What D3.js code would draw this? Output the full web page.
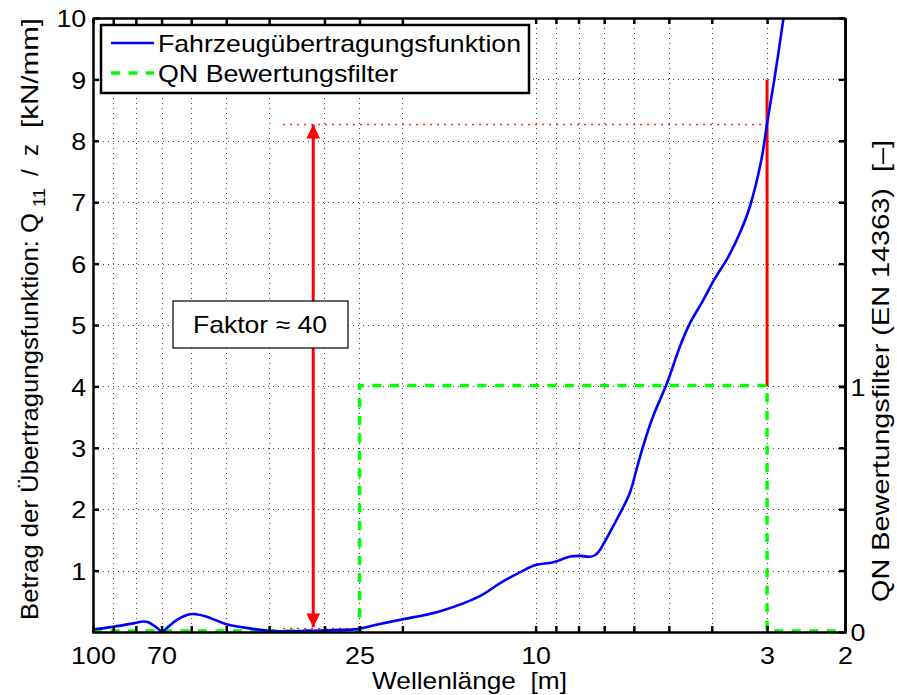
<!DOCTYPE html>
<html>
<head>
<meta charset="utf-8">
<script src="https://cdn.jsdelivr.net/npm/d3@7/dist/d3.min.js"></script>
<style>
  html, body { margin: 0; padding: 0; background: #fff; }
  text { font-family: "Liberation Sans", Arial, Helvetica, sans-serif; fill: #000; white-space: pre; }
</style>
</head>
<body>
<svg id="chart" width="897" height="695"></svg>
<script>
// ---------- data ----------
const xTicks = [100, 90, 80, 70, 60, 50, 40, 30, 25, 20, 10, 9, 8, 7, 6, 5, 4, 3, 2];
const xTickLabels = [100, 70, 25, 10, 3, 2];
const yTicksLeft = [1, 2, 3, 4, 5, 6, 7, 8, 9, 10];
const yTicksRight = [0, 1];

// Fahrzeugübertragungsfunktion (wavelength [m], value [kN/mm])
const wavelength = [100, 99, 90, 81.1, 77, 75, 71.8, 69.6, 68.2, 64.7, 60.4, 58.5, 55.3, 49.9, 43.4, 39.2,
  31.8, 27.6, 25.4, 22.5, 20.2, 16.5, 13.4, 12.0, 10.8, 10.0, 9.12, 8.35, 7.93, 7.54, 7.35, 7.2, 7.03,
  6.8, 6.57, 6.13, 5.92, 5.72, 5.43, 5.05, 4.72, 4.48, 4.2, 3.94, 3.67, 3.45, 3.28, 3.09, 3.0, 2.89, 2.755, 2.72];
const transfer = [0.06, 0.05, 0.086, 0.14, 0.17, 0.16, 0.07, 0.005, 0.06, 0.195, 0.29, 0.29, 0.25, 0.125, 0.05, 0.016,
  0.02, 0.035, 0.045, 0.13, 0.2, 0.335, 0.58, 0.80, 0.98, 1.09, 1.135, 1.23, 1.24, 1.225, 1.25, 1.31, 1.43,
  1.62, 1.82, 2.26, 2.64, 3.02, 3.51, 4.05, 4.65, 5.03, 5.38, 5.75, 6.11, 6.51, 6.93, 7.69, 8.28, 8.99, 9.99, 10.3];

// QN Bewertungsfilter (right axis)
const filterWavelength = [100, 25, 25, 3, 3, 2];
const filterValue = [0, 0, 1, 1, 0, 0];

// annotation values
const refHigh = 8.28, refLow = 0.06, arrowWavelength = 31.8, dotStartWavelength = 37.2;
const redBarTop = 9, redBarWavelength = 3;

// ---------- layout ----------
const L = 93, R = 845, T = 18, B = 632;
const svg = d3.select("#chart");
const x = d3.scaleLog().domain([100, 2]).range([L, R]);
const y = d3.scaleLinear().domain([0, 10]).range([B, T]);
const y2 = d3.scaleLinear().domain([0, 2.5]).range([B, T]);

const defs = svg.append("defs");
defs.append("clipPath").attr("id", "clip").append("rect")
  .attr("x", L).attr("y", T).attr("width", R - L).attr("height", B - T);
["start", "end"].forEach(k => {
  defs.append("marker").attr("id", "arrow-" + k)
    .attr("viewBox", "0 0 10 10").attr("refX", 10).attr("refY", 5)
    .attr("markerWidth", 6).attr("markerHeight", 4.6)
    .attr("markerUnits", "strokeWidth")
    .attr("orient", k === "start" ? "auto-start-reverse" : "auto")
    .append("path").attr("d", "M0,0 L10,5 L0,10 z").attr("fill", "#ff0000");
});

// ---------- grid ----------
const grid = svg.append("g").attr("stroke", "#444").attr("stroke-width", 1)
  .attr("stroke-dasharray", "1,4");
grid.selectAll("line.v").data(xTicks.filter(d => d !== 100 && d !== 2)).enter().append("line")
  .attr("x1", d => Math.round(x(d)) + 0.5).attr("x2", d => Math.round(x(d)) + 0.5)
  .attr("y1", T).attr("y2", B);
grid.selectAll("line.h").data(yTicksLeft.filter(d => d < 10)).enter().append("line")
  .attr("x1", L).attr("x2", R)
  .attr("y1", d => Math.round(y(d)) + 0.5).attr("y2", d => Math.round(y(d)) + 0.5);

// ---------- red annotations (behind curves) ----------
const red = svg.append("g");
[[refHigh, redBarWavelength], [refLow, 25]].forEach(([v, wEnd]) => {
  red.append("line")
    .attr("x1", x(dotStartWavelength)).attr("x2", x(wEnd))
    .attr("y1", Math.round(y(v)) + 0.5).attr("y2", Math.round(y(v)) + 0.5)
    .attr("stroke", "#ff2020").attr("stroke-width", 1.3).attr("stroke-dasharray", "2,5");
});
red.append("line")
  .attr("x1", x(redBarWavelength)).attr("x2", x(redBarWavelength))
  .attr("y1", y(redBarTop)).attr("y2", y2(1))
  .attr("stroke", "#ff0000").attr("stroke-width", 3);
red.append("line")
  .attr("x1", x(arrowWavelength)).attr("x2", x(arrowWavelength))
  .attr("y1", y(refHigh) + 1).attr("y2", y(refLow) - 1)
  .attr("stroke", "#ff0000").attr("stroke-width", 3)
  .attr("marker-start", "url(#arrow-start)").attr("marker-end", "url(#arrow-end)");

// ---------- filter (green dashed) ----------
const filterData = filterWavelength.map((w, i) => [w, filterValue[i]]);
svg.append("path").datum(filterData)
  .attr("clip-path", "url(#clip)")
  .attr("fill", "none").attr("stroke", "#00ff00").attr("stroke-width", 3.5)
  .attr("stroke-dasharray", "9,8.5")
  .attr("d", d3.line().x(d => x(d[0])).y(d => y2(d[1]) - 1));

// ---------- transfer function (blue) ----------
const transferData = wavelength.map((w, i) => [w, transfer[i]]);
svg.append("path").datum(transferData)
  .attr("clip-path", "url(#clip)")
  .attr("fill", "none").attr("stroke", "#0000ff").attr("stroke-width", 2.6)
  .attr("stroke-linejoin", "round")
  .attr("d", d3.line().x(d => x(d[0])).y(d => y(d[1])).curve(d3.curveCatmullRom.alpha(0.5)));

// ---------- axes ----------
const fs = 24;
const axB = svg.append("g").attr("transform", `translate(0,${B})`)
  .call(d3.axisBottom(x).tickValues(xTicks).tickSizeInner(-6).tickSizeOuter(0)
    .tickFormat(d => xTickLabels.includes(d) ? d : ""));
const axT = svg.append("g").attr("transform", `translate(0,${T})`)
  .call(d3.axisTop(x).tickValues(xTicks).tickSizeInner(-6).tickSizeOuter(0).tickFormat(""));
const axL = svg.append("g").attr("transform", `translate(${L},0)`)
  .call(d3.axisLeft(y).tickValues(yTicksLeft).tickSizeInner(-6).tickSizeOuter(0).tickFormat(d3.format("d")));
const axR = svg.append("g").attr("transform", `translate(${R},0)`)
  .call(d3.axisRight(y2).tickValues(yTicksRight).tickSizeInner(-6).tickSizeOuter(0).tickFormat(d3.format("d")));
const axR2 = svg.append("g").attr("transform", `translate(${R},0)`)
  .call(d3.axisRight(y).tickValues(yTicksLeft).tickSizeInner(-6).tickSizeOuter(0).tickFormat(""));
[axB, axT, axL, axR, axR2].forEach(a => {
  a.select(".domain").attr("stroke", "#000").attr("stroke-width", 2.5);
  a.selectAll(".tick line").attr("stroke", "#000").attr("stroke-width", 2.5);
  a.selectAll(".tick text").style("font-size", fs + "px").attr("fill", "#000")
    .style("font-family", '"Liberation Sans", Arial, sans-serif');
});
axB.selectAll(".tick text").attr("dy", "0").attr("y", 32).attr("transform", "scale(1.12,1)");
axL.selectAll(".tick text").attr("x", -6).attr("dy", "0.36em").attr("transform", "scale(1.12,1)");
axR.selectAll(".tick text").attr("x", 5).attr("dy", "0.36em").attr("transform", "scale(1.12,1)");
axB.select(".domain").attr("stroke-linecap", "square");

// ---------- text box "Faktor ≈ 40" ----------
const boxX0 = 173, boxX1 = 348, boxY0 = 301, boxY1 = 348;
svg.append("rect").attr("x", boxX0).attr("y", boxY0)
  .attr("width", boxX1 - boxX0).attr("height", boxY1 - boxY0)
  .attr("fill", "#fff").attr("stroke", "#000").attr("stroke-width", 1.2);
svg.append("text").attr("x", 193).attr("y", (boxY0 + boxY1) / 2 + 8.5)
  .style("font-size", "24px").attr("textLength", 134).attr("lengthAdjust", "spacingAndGlyphs")
  .text("Faktor ≈ 40");

// ---------- legend ----------
const lg = svg.append("g");
lg.append("rect").attr("x", 101).attr("y", 25).attr("width", 428).attr("height", 68)
  .attr("fill", "#fff").attr("stroke", "#000").attr("stroke-width", 2.5);
const legendItems = [
  { label: "Fahrzeugübertragungsfunktion", color: "#0000ff", dash: null, width: 2.6, len: 363 },
  { label: "QN Bewertungsfilter", color: "#00ff00", dash: "9,8.5", width: 3.5, len: 240 }
];
legendItems.forEach((it, i) => {
  const cy = 43 + i * 30;
  lg.append("line").attr("x1", 111).attr("x2", 154).attr("y1", cy).attr("y2", cy)
    .attr("stroke", it.color).attr("stroke-width", it.width)
    .attr("stroke-dasharray", it.dash);
  lg.append("text").attr("x", 158).attr("y", cy + 8.5)
    .style("font-size", "24px").attr("textLength", it.len).attr("lengthAdjust", "spacingAndGlyphs")
    .text(it.label);
});

// ---------- axis titles ----------
svg.append("text").attr("x", 372).attr("y", 689)
  .style("font-size", "24px").attr("textLength", 195).attr("lengthAdjust", "spacingAndGlyphs")
  .text("Wellenlänge  [m]");

// left y label, parts laid along the rotated axis (rotated x = -screen y)
const yl = svg.append("g").attr("transform", "translate(38,0) rotate(-90)")
  .style("font-size", "24px");
const ylParts = [
  { t: "Betrag der Übertragungsfunktion: Q", y0: 620, y1: 213, dy: 0, size: 24 },
  { t: "11", y0: 207, y1: 188, dy: 7, size: 17 },
  { t: "/", y0: 176, y1: null, dy: 0, size: 24 },
  { t: "z", y0: 156, y1: null, dy: 0, size: 24 },
  { t: "[kN/mm]", y0: 128, y1: 18, dy: 0, size: 24 }
];
ylParts.forEach(p => {
  const t = yl.append("text").attr("x", -p.y0).attr("y", p.dy)
    .style("font-size", p.size + "px").text(p.t);
  if (p.y1 !== null) t.attr("textLength", p.y0 - p.y1).attr("lengthAdjust", "spacingAndGlyphs");
});

svg.append("text").attr("transform", "translate(889,602) rotate(-90)")
  .style("font-size", "24px").attr("textLength", 462).attr("lengthAdjust", "spacingAndGlyphs")
  .text("QN Bewertungsfilter (EN 14363)  [–]");
</script>
</body>
</html>
